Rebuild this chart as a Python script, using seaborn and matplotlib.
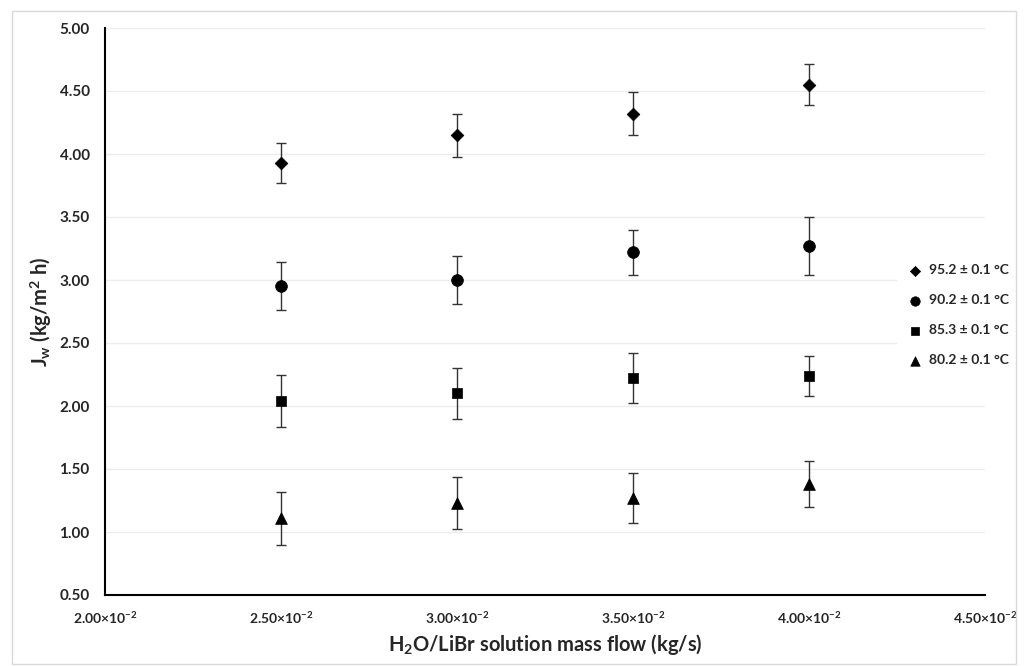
import numpy as np
import pandas as pd
import matplotlib
matplotlib.use("Agg")
import matplotlib.pyplot as plt
from matplotlib.patches import Rectangle
import seaborn as sns

# Datos
mass_flow = [0.025, 0.030, 0.035, 0.040]
series_labels = ["95.2 ± 0.1 °C", "90.2 ± 0.1 °C", "85.3 ± 0.1 °C", "80.2 ± 0.1 °C"]
jw_952 = [3.93, 4.15, 4.32, 4.55]
jw_902 = [2.95, 3.00, 3.22, 3.27]
jw_853 = [2.04, 2.10, 2.22, 2.24]
jw_802 = [1.11, 1.23, 1.27, 1.38]
err_952 = [0.16, 0.17, 0.17, 0.165]
err_902 = [0.19, 0.19, 0.18, 0.23]
err_853 = [0.21, 0.20, 0.20, 0.16]
err_802 = [0.21, 0.21, 0.20, 0.18]

series_vals = [jw_952, jw_902, jw_853, jw_802]
series_errs = [err_952, err_902, err_853, err_802]
markers = {"95.2 ± 0.1 °C": "D", "90.2 ± 0.1 °C": "o",
           "85.3 ± 0.1 °C": "s", "80.2 ± 0.1 °C": "^"}
sizes = {"95.2 ± 0.1 °C": 42, "90.2 ± 0.1 °C": 72,
         "85.3 ± 0.1 °C": 62, "80.2 ± 0.1 °C": 72}

rows = []
for lab, vals, errs in zip(series_labels, series_vals, series_errs):
    for x, v, e in zip(mass_flow, vals, errs):
        rows.append({"x": x, "y": v, "err": e, "serie": lab})
df = pd.DataFrame(rows)

sns.set_style("white")
plt.rcParams['font.family'] = ['Lato', 'DejaVu Sans']
plt.rcParams['mathtext.fontset'] = 'custom'
plt.rcParams['mathtext.rm'] = 'Lato'
plt.rcParams['mathtext.it'] = 'Lato'
plt.rcParams['mathtext.bf'] = 'Lato:bold'

txt_color = '#262626'

fig = plt.figure(figsize=(10.32, 6.66), dpi=100)
fig.patches.append(Rectangle((12 / 1032, 1 - 664 / 666), 1004 / 1032, 653 / 666,
                             transform=fig.transFigure, fill=False,
                             edgecolor='#d9d9d9', linewidth=1.0, zorder=0))
ax = fig.add_axes([105 / 1032, 1 - 595 / 666, 880 / 1032, 567 / 666])

# barras de error
for lab in series_labels:
    d = df[df["serie"] == lab]
    ax.errorbar(d["x"], d["y"], yerr=d["err"], fmt='none', ecolor='#333333',
                elinewidth=1.0, capsize=3.5, capthick=1.0, zorder=2)

for lab in series_labels:
    d = df[df["serie"] == lab]
    sns.scatterplot(data=d, x="x", y="y", marker=markers[lab], s=sizes[lab],
                    color='black', edgecolor='black', linewidth=0.5,
                    label=lab, ax=ax, zorder=3)

xt = np.arange(0.020, 0.0451, 0.005)
yt = np.arange(0.5, 5.01, 0.5)
ax.set_xlim(0.020, 0.045)
ax.set_ylim(0.50, 5.00)
ax.set_xticks(xt)
ax.set_yticks(yt)
ax.set_xticklabels([f"{v*100:.2f}×10$^{{\\mathbf{{-2}}}}$" for v in xt],
                   fontsize=10, fontweight='bold', color=txt_color)
ax.set_yticklabels([f"{v:.2f}" for v in yt],
                   fontsize=11, fontweight='bold', color=txt_color)
ax.yaxis.grid(True, color='#ececec', linewidth=1.0)
ax.xaxis.grid(False)
ax.set_axisbelow(True)
for s in ['top', 'right']:
    ax.spines[s].set_visible(False)
for s in ['left', 'bottom']:
    ax.spines[s].set_color('black')
    ax.spines[s].set_linewidth(1.5)
ax.tick_params(axis='y', direction='out', length=5, width=1.2, color='black', pad=6)
ax.tick_params(axis='x', direction='inout', length=6, width=1.2, color='black', pad=8)

ax.set_xlabel("H$_\\mathbf{2}$O/LiBr solution mass flow (kg/s)", fontsize=14.5,
              fontweight='bold', color=txt_color, labelpad=4)
ax.set_ylabel("J$_\\mathbf{w}$ (kg/m$^\\mathbf{2}$ h)", fontsize=14.5,
              fontweight='bold', color=txt_color, labelpad=4)

leg = ax.legend(loc='upper left', bbox_to_anchor=(897 / 1032, 1 - 260 / 666),
                bbox_transform=fig.transFigure, frameon=True, framealpha=1,
                edgecolor='white', fontsize=10, handletextpad=0.0,
                labelspacing=1.3, borderpad=0.3, markerscale=0.8,
                borderaxespad=0)
leg.get_frame().set_linewidth(0)
for t in leg.get_texts():
    t.set_fontweight('bold')
    t.set_color(txt_color)

plt.savefig("out.png", dpi=100)
plt.close()
